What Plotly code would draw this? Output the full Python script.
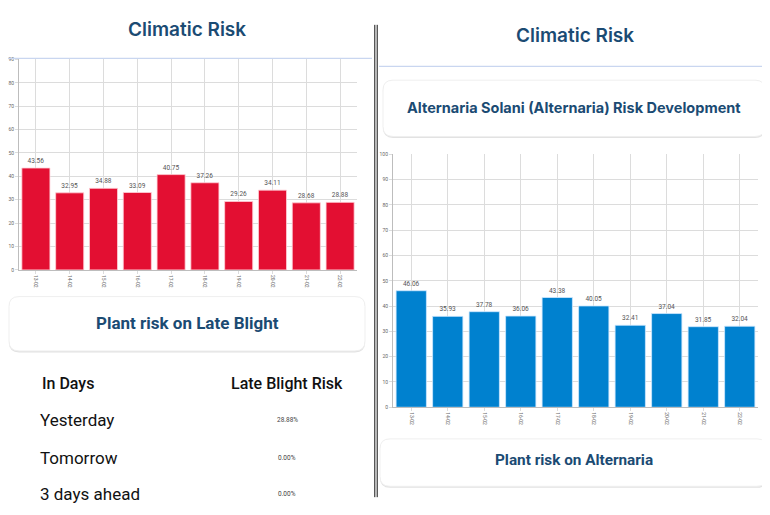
import plotly.graph_objects as go

W, H = 770, 515
OFF = 8  # browser body margin
FW, FH = W - OFF, H - OFF

dates = ["13-02", "14-02", "15-02", "16-02", "17-02", "18-02", "19-02", "20-02", "21-02", "22-02"]
late_blight = [43.56, 32.95, 34.88, 33.09, 40.75, 37.26, 29.26, 34.11, 28.68, 28.88]
alternaria = [46.06, 35.93, 37.78, 36.06, 43.38, 40.05, 32.41, 37.04, 31.85, 32.04]
table_days = ["Yesterday", "Tomorrow", "3 days ahead"]
table_risk = ["28.88%", "0.00%", "0.00%"]

TITLE_C = "#1b4b73"
RED = "#e30f32"
BLUE = "#0081cf"


def px(x):
    return (x - OFF) / FW


def py(y):
    return 1 - (y - OFF) / FH


fig = go.Figure()
fig.add_trace(go.Bar(
    x=dates, y=late_blight, marker=dict(color=RED, line=dict(color="#ffd0d8", width=0.8)),
    text=[f"{v:.2f}" for v in late_blight], textposition="outside",
    textfont=dict(size=6.5, color="#555", family="Roboto"), cliponaxis=False,
    xaxis="x", yaxis="y", hoverinfo="skip"))
fig.add_trace(go.Bar(
    x=dates, y=alternaria, marker=dict(color=BLUE, line=dict(color="#cfe8ff", width=0.8)),
    text=[f"{v:.2f}" for v in alternaria], textposition="outside",
    textfont=dict(size=6.5, color="#555", family="Roboto"), cliponaxis=False,
    xaxis="x2", yaxis="y2", hoverinfo="skip"))

axis_common = dict(showgrid=True, gridcolor="#dcdcdc", gridwidth=1, zeroline=False,
                   showline=True, linecolor="#bdbdbd", linewidth=1,
                   tickfont=dict(size=5, color="#666", family="Roboto"),
                   ticks="outside", ticklen=3, tickcolor="#dcdcdc")


def rrect(x0, y0, x1, y1, r=10):
    X0, X1 = px(x0), px(x1)
    Y0, Y1 = py(y0), py(y1)
    rx, ry = r / FW, r / FH
    return (f"M {X0+rx},{Y0} L {X1-rx},{Y0} Q {X1},{Y0} {X1},{Y0-ry} "
            f"L {X1},{Y1+ry} Q {X1},{Y1} {X1-rx},{Y1} L {X0+rx},{Y1} "
            f"Q {X0},{Y1} {X0},{Y1+ry} L {X0},{Y0-ry} Q {X0},{Y0} {X0+rx},{Y0} Z")


shapes = []
shapes.append(dict(type="line", xref="paper", yref="paper", x0=0, x1=px(372), y0=py(56), y1=py(56),
                   line=dict(color="#c9d6f0", width=1.2)))
shapes.append(dict(type="line", xref="paper", yref="paper", x0=px(379), x1=1, y0=py(64), y1=py(64),
                   line=dict(color="#c9d6f0", width=1.2)))
for xx in (374.8, 377.2):
    shapes.append(dict(type="line", xref="paper", yref="paper", x0=px(xx), x1=px(xx), y0=py(22), y1=py(500),
                       line=dict(color="#111", width=1)))
cards = [(9, 297, 365, 352), (383, 78, 765, 135), (380, 441, 767, 489)]
for (a, b, c, d) in cards:
    shapes.append(dict(type="path", xref="paper", yref="paper", path=rrect(a, b + 1.5, c, d + 1.5),
                       fillcolor="#e2e2e2", line=dict(width=0), layer="below"))
    shapes.append(dict(type="path", xref="paper", yref="paper", path=rrect(a, b, c, d),
                       fillcolor="white", line=dict(color="#efefef", width=1), layer="below"))

ann = []


def label(text, x, y, size, color, family, weight="normal", xanchor="center"):
    ann.append(dict(text=text, x=px(x), y=py(y), xref="paper", yref="paper", showarrow=False,
                    xanchor=xanchor, yanchor="middle",
                    font=dict(size=size, color=color, family=family, weight=weight)))


label("Climatic Risk", 187, 27, 19, TITLE_C, "Inter", 600)
label("Climatic Risk", 575, 33, 19, TITLE_C, "Inter", 600)
label("Plant risk on Late Blight", 187, 324, 17, TITLE_C, "Roboto", "bold")
label("Alternaria Solani (Alternaria) Risk Development", 574, 106, 14.5, TITLE_C, "Inter", "bold")
label("Plant risk on Alternaria", 574, 462, 15.3, TITLE_C, "Roboto", "bold")
label("In Days", 40, 385, 16, "#111", "Roboto", 500, xanchor="left")
label("Late Blight Risk", 287, 385, 16, "#111", "Roboto", 500)
row_y = [422, 460, 497]
for d, r, yy in zip(table_days, table_risk, row_y):
    label(d, 38, yy, 17, "#111", "Roboto", xanchor="left")
    label(r, 287, yy, 6.5, "#444", "Roboto")

fig.update_layout(
    width=FW, height=FH, margin=dict(l=0, r=0, t=0, b=0),
    paper_bgcolor="white", plot_bgcolor="white", showlegend=False,
    bargap=0.17,
    xaxis=dict(domain=[px(19), px(357)], anchor="y", type="category", tickangle=90, **axis_common),
    yaxis=dict(domain=[py(270), py(57)], anchor="x", range=[0, 90], dtick=10, **axis_common),
    xaxis2=dict(domain=[px(393), px(758)], anchor="y2", type="category", tickangle=90, **axis_common),
    yaxis2=dict(domain=[py(409), py(153)], anchor="x2", range=[0, 100], dtick=10, **axis_common),
    shapes=shapes, annotations=ann,
)

fig.write_html("out.html")
